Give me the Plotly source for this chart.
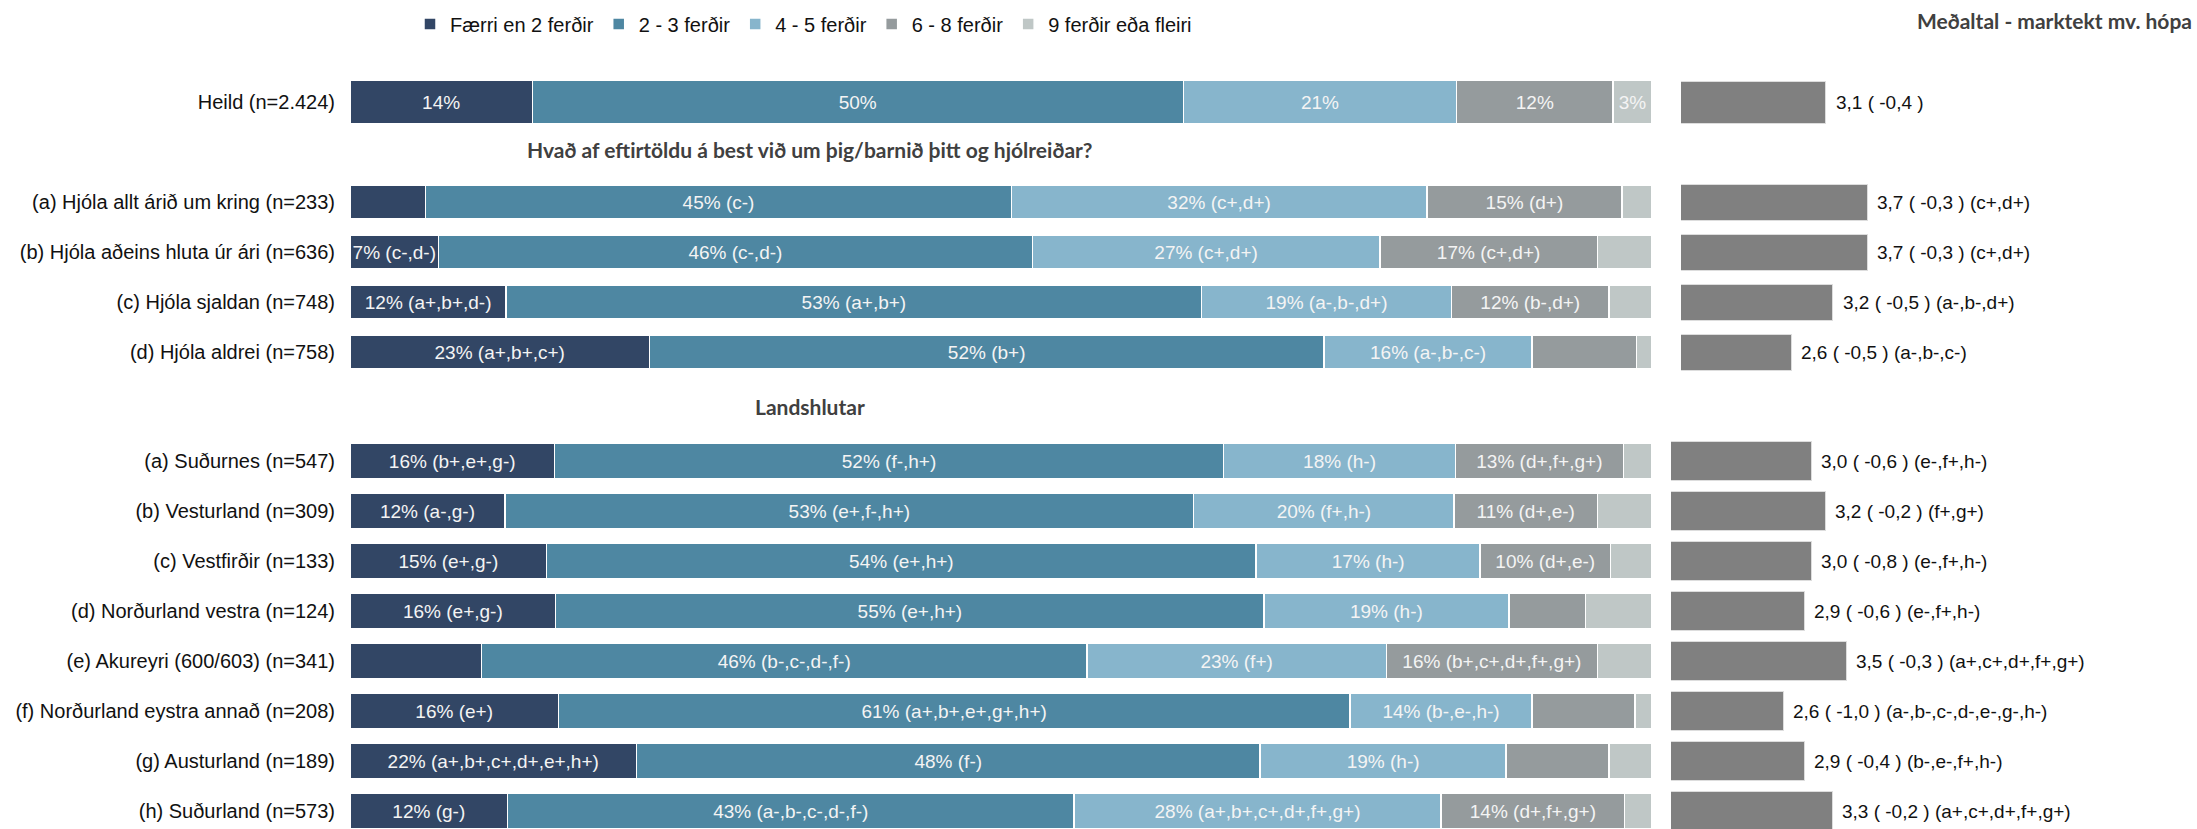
import plotly.graph_objects as go

# ---------------- data ----------------
series_names = ["Færri en 2 ferðir", "2 - 3 ferðir", "4 - 5 ferðir", "6 - 8 ferðir", "9 ferðir eða fleiri"]
series_colors = ["#324665", "#4e87a2", "#87b5cc", "#959b9d", "#bfc7c6"]

cat_heild = ["Heild (n=2.424)"]
cat_hjol = ["(a) Hjóla allt árið um kring (n=233)", "(b) Hjóla aðeins hluta úr ári (n=636)",
            "(c) Hjóla sjaldan (n=748)", "(d) Hjóla aldrei (n=758)"]
cat_land = ["(a) Suðurnes (n=547)", "(b) Vesturland (n=309)", "(c) Vestfirðir (n=133)",
            "(d) Norðurland vestra (n=124)", "(e) Akureyri (600/603) (n=341)",
            "(f) Norðurland eystra annað (n=208)", "(g) Austurland (n=189)", "(h) Suðurland (n=573)"]

heild_vals = [[14], [50], [21], [12], [3]]
heild_text = [["14%"], ["50%"], ["21%"], ["12%"], ["3%"]]

hjol_vals = [
    [5.8, 6.8, 12.0, 23.0],
    [45.0, 45.6, 53.4, 51.8],
    [31.9, 26.7, 19.2, 16.0],
    [15.0, 16.7, 12.1, 8.0],
    [2.3, 4.2, 3.3, 1.2],
]
hjol_text = [
    ["", "7% (c-,d-)", "12% (a+,b+,d-)", "23% (a+,b+,c+)"],
    ["45% (c-)", "46% (c-,d-)", "53% (a+,b+)", "52% (b+)"],
    ["32% (c+,d+)", "27% (c+,d+)", "19% (a-,b-,d+)", "16% (a-,b-,c-)"],
    ["15% (d+)", "17% (c+,d+)", "12% (b-,d+)", ""],
    ["", "", "", ""],
]

land_vals = [
    [15.7, 11.9, 15.1, 15.8, 10.1, 16.0, 22.0, 12.1],
    [51.4, 52.9, 54.5, 54.4, 46.5, 60.8, 47.9, 43.5],
    [17.8, 20.0, 17.2, 18.8, 23.0, 14.0, 18.9, 28.2],
    [12.9, 11.0, 10.0, 5.9, 16.2, 7.9, 7.9, 14.1],
    [2.2, 4.2, 3.2, 5.1, 4.2, 1.3, 3.3, 2.1],
]
land_text = [
    ["16% (b+,e+,g-)", "12% (a-,g-)", "15% (e+,g-)", "16% (e+,g-)", "", "16% (e+)",
     "22% (a+,b+,c+,d+,e+,h+)", "12% (g-)"],
    ["52% (f-,h+)", "53% (e+,f-,h+)", "54% (e+,h+)", "55% (e+,h+)", "46% (b-,c-,d-,f-)",
     "61% (a+,b+,e+,g+,h+)", "48% (f-)", "43% (a-,b-,c-,d-,f-)"],
    ["18% (h-)", "20% (f+,h-)", "17% (h-)", "19% (h-)", "23% (f+)", "14% (b-,e-,h-)",
     "19% (h-)", "28% (a+,b+,c+,d+,f+,g+)"],
    ["13% (d+,f+,g+)", "11% (d+,e-)", "10% (d+,e-)", "", "16% (b+,c+,d+,f+,g+)", "", "",
     "14% (d+,f+,g+)"],
    ["", "", "", "", "", "", "", ""],
]

mean_heild = [3.1]
mean_heild_text = ["3,1 ( -0,4 )"]
mean_hjol = [3.7, 3.7, 3.2, 2.6]
mean_hjol_text = ["3,7 ( -0,3 ) (c+,d+)", "3,7 ( -0,3 ) (c+,d+)", "3,2 ( -0,5 ) (a-,b-,d+)",
                  "2,6 ( -0,5 ) (a-,b-,c-)"]
mean_land = [3.0, 3.2, 3.0, 2.9, 3.5, 2.6, 2.9, 3.3]
mean_land_text = ["3,0 ( -0,6 ) (e-,f+,h-)", "3,2 ( -0,2 ) (f+,g+)", "3,0 ( -0,8 ) (e-,f+,h-)",
                  "2,9 ( -0,6 ) (e-,f+,h-)", "3,5 ( -0,3 ) (a+,c+,d+,f+,g+)",
                  "2,6 ( -1,0 ) (a-,b-,c-,d-,e-,g-,h-)", "2,9 ( -0,4 ) (b-,e-,f+,h-)",
                  "3,3 ( -0,2 ) (a+,c+,d+,f+,g+)"]

title_hjol = "Hvað af eftirtöldu á best við um þig/barnið þitt og hjólreiðar?"
title_land = "Landshlutar"
title_mean = "Meðaltal - marktekt mv. hópa"

# ---------------- layout helpers ----------------
W, H = 2197, 829
FONT = "Liberation Sans, Arial, sans-serif"
BOLD = "Lato, Calibri, sans-serif"


def px(x):
    return x / W


def py(y):
    return 1 - y / H


fig = go.Figure()

sections = [
    # (categories, values, texts, means, mean_texts, yaxis, mean xaxis, bar width, mean bar width)
    (cat_heild, heild_vals, heild_text, mean_heild, mean_heild_text, "y", "x2", 0.88, 0.84),
    (cat_hjol, hjol_vals, hjol_text, mean_hjol, mean_hjol_text, "y2", "x2", 0.68, 0.72),
    (cat_land, land_vals, land_text, mean_land, mean_land_text, "y3", "x3", 0.72, 0.78),
]

for si, (cats, vals, texts, means, mtexts, yax, mxax, bw, mbw) in enumerate(sections):
    for k in range(5):
        fig.add_trace(go.Bar(
            orientation="h", y=cats, x=vals[k], text=texts[k],
            name=series_names[k], legendgroup=series_names[k], showlegend=(si == 0),
            marker=dict(color=series_colors[k], line=dict(color="white", width=1.5)),
            width=bw, textposition="inside", insidetextanchor="middle",
            constraintext="none", textangle=0,
            textfont=dict(family=FONT, size=19, color="#f4f4f4"),
            xaxis="x", yaxis=yax, hoverinfo="skip",
        ))
    fig.add_trace(go.Bar(
        orientation="h", y=cats, x=means, width=mbw,
        marker=dict(color="#808080", line=dict(color="#dddddd", width=1)),
        showlegend=False, xaxis=mxax, yaxis=yax, hoverinfo="skip",
    ))
    for c, m, t in zip(cats, means, mtexts):
        fig.add_annotation(x=m, y=c, xref=mxax, yref=yax, text=t, showarrow=False,
                           xanchor="left", yanchor="middle", xshift=8,
                           font=dict(family=FONT, size=19, color="#111111"))

fig.update_layout(
    width=W, height=H, margin=dict(l=0, r=0, t=0, b=0),
    paper_bgcolor="white", plot_bgcolor="white", barmode="stack",
    font=dict(family=FONT, size=20, color="#111111"),
    showlegend=True,
    legend=dict(orientation="h", x=px(410), xanchor="left", y=py(24), yanchor="middle",
                font=dict(family=FONT, size=20, color="#111111"), traceorder="normal",
                itemclick=False, bgcolor="rgba(0,0,0,0)"),
    xaxis=dict(domain=[px(350), px(1652)], range=[0, 100], visible=False, fixedrange=True),
    xaxis2=dict(domain=[px(1681), px(1681 + 69 * 3)], range=[1, 4], visible=False,
                anchor="y"),
    xaxis3=dict(domain=[px(1671), px(1671 + 70 * 3)], range=[1, 4], visible=False,
                anchor="y3"),
)

axis_common = dict(showgrid=False, zeroline=False, showline=False, ticks="",
                   ticklabelstandoff=14, anchor="x",
                   tickfont=dict(family=FONT, size=20, color="#111111"))
fig.update_layout(
    yaxis=dict(domain=[py(127), py(77)], range=[0.5, -0.5], **axis_common),
    yaxis2=dict(domain=[py(377), py(177)], range=[3.5, -0.5], **axis_common),
    yaxis3=dict(domain=[0, py(436)], range=[7.36, -0.5], **axis_common),
)

fig.add_annotation(x=px(810), y=py(149), xref="paper", yref="paper", text=title_hjol,
                   showarrow=False, xanchor="center", yanchor="middle",
                   font=dict(family=BOLD, size=21, color="#404040", weight="bold"))
fig.add_annotation(x=px(810), y=py(406), xref="paper", yref="paper", text=title_land,
                   showarrow=False, xanchor="center", yanchor="middle",
                   font=dict(family=BOLD, size=21, color="#404040", weight="bold"))
fig.add_annotation(x=px(2194), y=py(21), xref="paper", yref="paper", text=title_mean,
                   showarrow=False, xanchor="right", yanchor="middle",
                   font=dict(family=BOLD, size=21, color="#404040", weight="bold"))

fig.write_html("out.html", config={"displayModeBar": False},
               post_script="document.body.style.margin='0';document.body.style.overflow='hidden';")
